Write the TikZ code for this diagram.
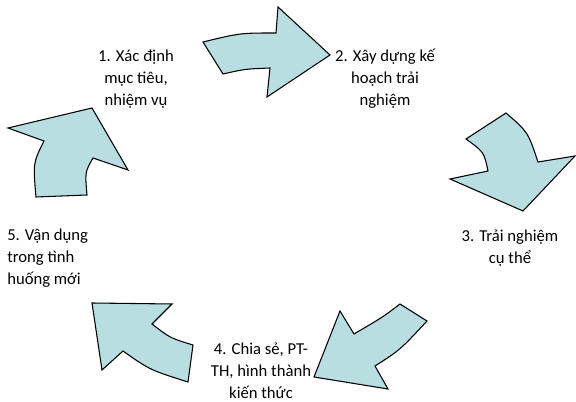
\documentclass[tikz,border=0pt]{standalone}
\usepackage{fontspec}
\setmainfont{Carlito}
\definecolor{arrowfill}{RGB}{184,222,226}
\begin{document}
\begin{tikzpicture}[x=0.75pt,y=-0.75pt,
  cyclearrow/.style={draw=black,fill=arrowfill,line width=0.8pt,line join=miter},
  lbl/.style={font=\fontsize{12.5}{16.5}\selectfont,align=center,inner sep=0pt}]
\useasboundingbox (0,0) rectangle (576,402);
% arrow 1 (top, to the right)
\path[cyclearrow] (203,42) .. controls (240,33) .. (276,33) -- (278,7) -- (330,55) -- (267,97) -- (270,68) .. controls (245,69) .. (223,74) -- cycle;
% arrow 2 (top right, downwards)
\path[cyclearrow] (506,113) .. controls (528,132) .. (538,162) -- (575,156) -- (523,211) -- (450,179) -- (488,171) .. controls (484,152) .. (466,139) -- cycle;
% arrow 3 (bottom right, down-left)
\path[cyclearrow] (400,304) -- (427,321) .. controls (400,350) .. (375,366) -- (388,389) -- (314,377) -- (340,311) -- (354,334) .. controls (383,317) .. (400,304) -- cycle;
% arrow 4 (bottom left, up-left)
\path[cyclearrow] (193,345) -- (188,382) .. controls (150,370) .. (123,351) -- (102,370) -- (92,303) -- (172,304) -- (152,324) .. controls (170,338) .. (193,345) -- cycle;
% arrow 5 (left, up-right)
\path[cyclearrow] (36,197) -- (87,195) .. controls (85,172) .. (93,158) -- (128,170) -- (92,108) -- (8,128) -- (44,141) .. controls (33,163) .. (36,197) -- cycle;
% labels
\node[lbl] (s1) at (136,79) {1. Xác định\\mục tiêu,\\nhiệm vụ};
\node[lbl] (s2) at (385,79) {2. Xây dựng kế\\hoạch trải\\nghiệm};
\node[lbl] (s3) at (510,248) {3. Trải nghiệm\\cụ thể};
\node[lbl] (s4) at (261,371) {4. Chia sẻ, PT-\\TH, hình thành\\kiến thức};
\node[lbl,align=left,anchor=west] (s5) at (7,258) {5. Vận dụng\\trong tình\\huống mới};
\end{tikzpicture}
\end{document}
